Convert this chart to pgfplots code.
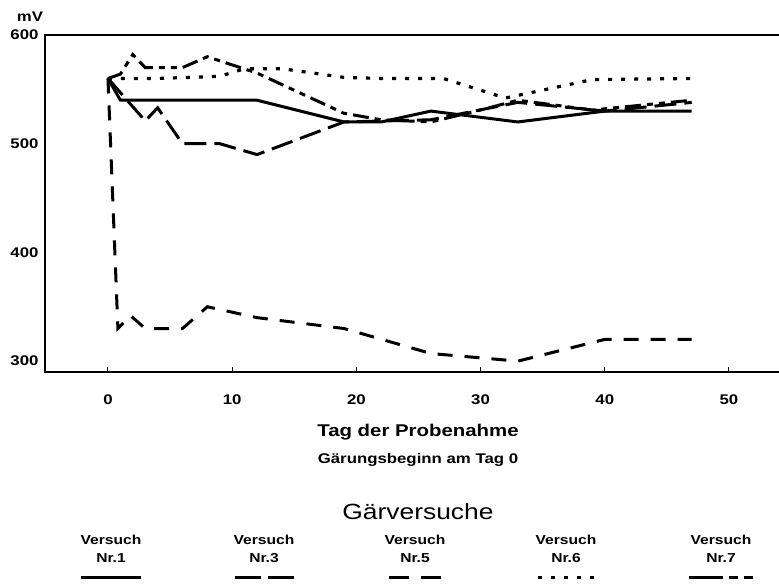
\documentclass[border=0pt]{standalone}
\usepackage{fontspec}
\setmainfont{Liberation Sans}[FakeStretch=1.2]
\usepackage{pgfplots}
\pgfplotsset{compat=1.18}
\begin{document}
\begin{tikzpicture}
\useasboundingbox (-45pt,-213pt) rectangle (734pt,372pt);
\begin{axis}[
  at={(0,0)}, anchor=south west,
  scale only axis, width=740pt, height=337pt,
  xmin=-5.07, xmax=54.51, ymin=290, ymax=600,
  axis line style={line width=2.4pt},
  xtick={0,10,20,30,40,50}, ytick={300,400,500,600},
  xtick pos=lower, ytick pos=left,
  tick align=inside,
  major tick length=5pt,
  xtick style={line width=1pt,black},
  ytick style={draw=none},
  /pgf/number format/assume math mode=true,
  tick label style={font=\bfseries\fontsize{14}{16}\selectfont},
  yticklabel style={xshift=-3pt},
  xticklabel style={yshift=-19pt},
  clip=false,
  every axis plot/.append style={line width=3pt, line cap=butt, line join=miter},
]
% Nr.1 solid
\addplot[black] coordinates {(0,560)(1,540)(12,540)(19,520)(22,520)(26,530)(33,520)(40,530)(47,530)};
% Nr.3 long dash
\addplot[black, dash pattern=on 22pt off 8pt] coordinates {(0,560)(3,521)(4,533)(6,500)(9,500)(12,490)(19,520)(26,522)(33,538)(40,530)(47,538)};
% Nr.5 medium dash
\addplot[black, dash pattern=on 15pt off 12pt] coordinates {(0,560)(0.8,330)(1.8,342)(3,330)(6,330)(8,350)(12,340)(19,330)(26,307)(33,300)(40,320)(47,320)};
% Nr.6 dotted
\addplot[black, line width=3.2pt, dash pattern=on 4pt off 9pt] coordinates {(0,560)(4,560)(9,562)(11,569)(14,569)(19,561)(22,560)(27,560)(32,542)(39,559)(47,560)};
% Nr.7 dash-dot
\addplot[black, dash pattern=on 16pt off 6pt on 6pt off 6pt on 6pt off 6pt] coordinates {(0,560)(1,564)(2,582)(3,570)(6,570)(8,580)(12,565)(19,528)(22,522)(26,520)(30,531)(33,540)(39,531)(47,540)};
\end{axis}
\node[font=\bfseries\fontsize{14}{16}\selectfont] at (-15pt,355pt) {mV};
\node[font=\bfseries\fontsize{17}{20}\selectfont] at (373pt,-60pt) {Tag der Probenahme};
\node[font=\bfseries\fontsize{14}{16}\selectfont] at (373pt,-88pt) {Gärungsbeginn am Tag 0};
\node[font=\fontsize{22}{25}\selectfont] at (373pt,-140pt) {Gärversuche};
\foreach \cx/\nr in {66/1,219/3,370/5,521/6,676/7}{
  \node[font=\bfseries\fontsize{13}{15}\selectfont] at (\cx pt,-168pt) {Versuch};
  \node[font=\bfseries\fontsize{13}{15}\selectfont] at (\cx pt,-186pt) {Nr.\nr};
}
\draw[line width=3pt] (36pt,-206pt) -- (96pt,-206pt);
\draw[line width=3pt] (190pt,-206pt) -- (216pt,-206pt) (223pt,-206pt) -- (249pt,-206pt);
\draw[line width=3pt] (344pt,-206pt) -- (364pt,-206pt) (376pt,-206pt) -- (396pt,-206pt);
\foreach \dx in {495,508,521,534,547}{\draw[line width=3pt] (\dx pt-2pt,-206pt) -- (\dx pt+2pt,-206pt);}
\draw[line width=3pt] (644pt,-206pt) -- (678pt,-206pt) (684pt,-206pt) -- (693pt,-206pt) (699pt,-206pt) -- (708pt,-206pt);
\end{tikzpicture}
\end{document}
